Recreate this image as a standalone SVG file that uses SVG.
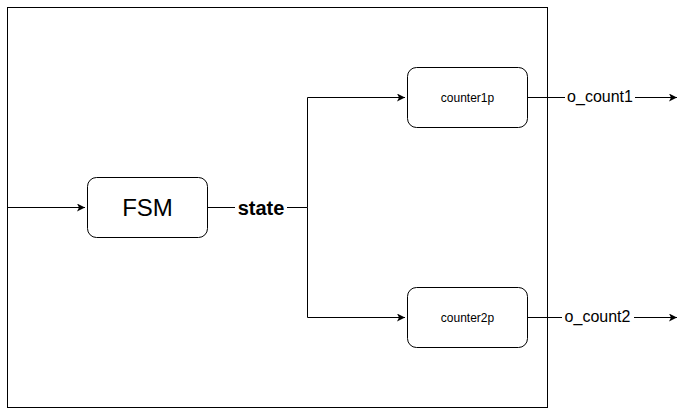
<svg xmlns="http://www.w3.org/2000/svg" width="686" height="409" viewBox="0 0 686 409">
<style>
.box{fill:#fff;stroke:#000;stroke-width:1}
.w{fill:none;stroke:#000;stroke-width:1}
text{font-family:"Liberation Sans",Arial,sans-serif;fill:#000;text-anchor:middle;dominant-baseline:central}
.lbl{fill:#fff;stroke:none}
</style>
<defs>
<marker id="arr" markerWidth="10" markerHeight="10" refX="8" refY="4" orient="auto" markerUnits="userSpaceOnUse">
<path d="M0,0 L8,4 L0,8 L2,4 Z" fill="#000"/>
</marker>
</defs>
<g id="outer"><rect x="7.5" y="7.5" width="540" height="400" class="w"/></g>
<g id="connectors">
<path d="M7.5,207.5 H85" class="w" marker-end="url(#arr)"/>
<path d="M207.5,207.5 H307.5" class="w"/>
<path d="M307.5,207.5 V97.5 H405" class="w" marker-end="url(#arr)"/>
<path d="M307.5,207.5 V317.5 H405" class="w" marker-end="url(#arr)"/>
<path d="M527.5,97.5 H677" class="w" marker-end="url(#arr)"/>
<path d="M527.5,317.5 H677" class="w" marker-end="url(#arr)"/>
<rect x="235" y="197" width="52" height="21" class="lbl"/>
<text x="261" y="207.5" font-size="20" font-weight="bold">state</text>
<rect x="565" y="89" width="70" height="17" class="lbl"/>
<text x="600" y="96" font-size="16">o_count1</text>
<rect x="562" y="309" width="72" height="17" class="lbl"/>
<text x="597.5" y="316" font-size="16">o_count2</text>
</g>
<g id="fsm"><rect x="87.5" y="177.5" width="120" height="60" rx="9" class="box"/><text x="147.5" y="207.5" font-size="24">FSM</text></g>
<g id="counter1p"><rect x="407.5" y="67.5" width="120" height="60" rx="9" class="box"/><text x="467.5" y="97.5" font-size="12">counter1p</text></g>
<g id="counter2p"><rect x="407.5" y="287.5" width="120" height="60" rx="9" class="box"/><text x="467.5" y="317.5" font-size="12">counter2p</text></g>
</svg>
